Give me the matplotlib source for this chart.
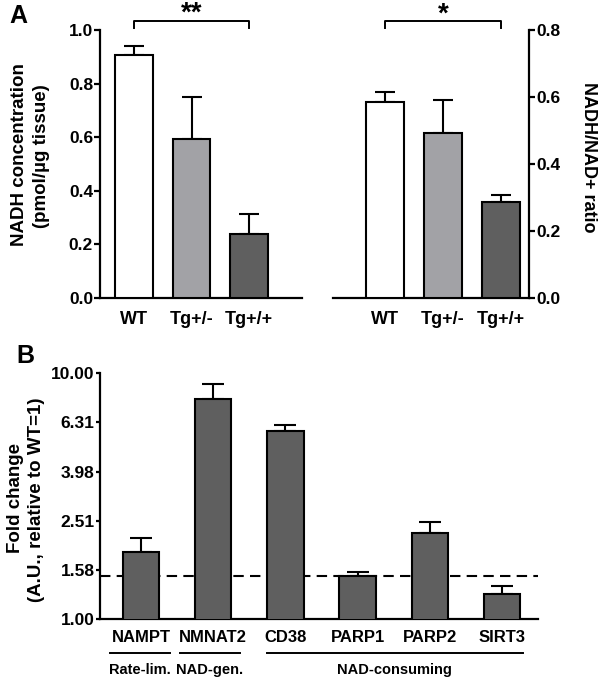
import numpy as np
import matplotlib
matplotlib.use("Agg")
import matplotlib.pyplot as plt

plt.rcParams['font.family'] = ['Liberation Sans', 'DejaVu Sans']
plt.rcParams['font.weight'] = 'bold'

# panel A data
genotypes = ['WT', 'Tg+/-', 'Tg+/+']
nadh_conc = [0.907, 0.592, 0.238]
nadh_conc_err = [0.034, 0.157, 0.074]
nadh_ratio = [0.586, 0.493, 0.287]
nadh_ratio_err = [0.030, 0.098, 0.020]
geno_colors = ['#ffffff', '#a2a2a6', '#5f5f5f']

# panel B data
genes = ['NAMPT', 'NMNAT2', 'CD38', 'PARP1', 'PARP2', 'SIRT3']
fold_change = [1.87, 7.84, 5.84, 1.50, 2.25, 1.27]
fold_upper = [2.15, 9.02, 6.16, 1.56, 2.48, 1.36]
baseline = 1.5
log_ticks = [1.00, 1.58, 2.51, 3.98, 6.31, 10.00]
groups = ['Rate-lim.', 'NAD-gen.', 'NAD-consuming']
group_spans = [(-0.43, 0.40), (0.54, 1.37), (1.74, 5.29)]

W, H = 600, 679
fig = plt.figure(figsize=(6, 6.79), dpi=100)


def fax(l, t, r, b):
    return fig.add_axes([l / W, 1 - b / H, (r - l) / W, (b - t) / H])


def style(ax):
    for s in ax.spines.values():
        s.set_linewidth(1.6)
    ax.tick_params(axis='y', width=1.6, length=4, pad=1, labelsize=12.5)
    ax.tick_params(axis='x', length=0, pad=9, labelsize=13)
    for lab in ax.get_xticklabels() + ax.get_yticklabels():
        lab.set_fontweight('bold')


def bracket(ax, x0, x1, y, drop, label, top_px):
    ax.plot([x0, x0, x1, x1], [y - drop, y, y, y - drop], color='black',
            lw=1.4, clip_on=False)
    xc = ax.transData.transform(((x0 + x1) / 2, 0))[0]
    fig.text(xc / W, 1 - top_px / H, label, ha='center', va='top',
             fontsize=20, fontweight='bold')


# A left
ax1 = fax(100, 30, 302, 298)
x = np.arange(len(genotypes))
ax1.bar(x, nadh_conc, width=0.66, color=geno_colors, edgecolor='black',
        linewidth=1.5, zorder=3)
ax1.errorbar(x, nadh_conc, yerr=[np.zeros(3), nadh_conc_err], fmt='none',
             ecolor='black', elinewidth=1.5, capsize=7, capthick=1.5, zorder=2)
ax1.set_xlim(-0.59, 2.92)
ax1.set_ylim(0, 1.0)
ax1.set_yticks([0, 0.2, 0.4, 0.6, 0.8, 1.0])
ax1.set_yticklabels(['0.0', '0.2', '0.4', '0.6', '0.8', '1.0'])
ax1.set_xticks(x)
ax1.set_xticklabels(genotypes)
ax1.spines['top'].set_visible(False)
ax1.spines['right'].set_visible(False)
style(ax1)
bracket(ax1, 0, 2, 1.035, 0.028, '**', 0.5)

# A right
ax2 = fax(333, 30, 529, 298)
ax2.bar(x, nadh_ratio, width=0.66, color=geno_colors, edgecolor='black',
        linewidth=1.5, zorder=3)
ax2.errorbar(x, nadh_ratio, yerr=[np.zeros(3), nadh_ratio_err], fmt='none',
             ecolor='black', elinewidth=1.5, capsize=7, capthick=1.5, zorder=2)
ax2.set_xlim(-0.90, 2.49)
ax2.set_ylim(0, 0.8)
ax2.set_yticks([0, 0.2, 0.4, 0.6, 0.8])
ax2.set_yticklabels(['0.0', '0.2', '0.4', '0.6', '0.8'])
ax2.yaxis.tick_right()
ax2.set_xticks(x)
ax2.set_xticklabels(genotypes)
ax2.spines['top'].set_visible(False)
ax2.spines['left'].set_visible(False)
style(ax2)
bracket(ax2, 0, 2, 0.828, 0.022, '*', 1.5)

# B
ax3 = fax(100, 373.3, 538, 619.3)
xb = np.arange(len(genes))
fc = np.array(fold_change)
ax3.axhline(baseline, color='black', lw=1.5, ls=(0, (5, 3)), zorder=1)
ax3.bar(xb, fc, width=0.505, bottom=0, color='#5f5f5f', edgecolor='black',
        linewidth=1.5, zorder=3)
ax3.errorbar(xb, fc, yerr=[np.zeros(len(fc)), np.array(fold_upper) - fc],
             fmt='none', ecolor='black', elinewidth=1.5, capsize=8,
             capthick=1.5, zorder=2)
ax3.set_yscale('log')
ax3.set_ylim(1.0, 10.0)
ax3.set_xlim(-0.568, 5.5)
ax3.set_yticks(log_ticks)
ax3.set_yticklabels(['%.2f' % t for t in log_ticks])
ax3.minorticks_off()
ax3.set_xticks(xb)
ax3.set_xticklabels(genes)
ax3.spines['top'].set_visible(False)
ax3.spines['right'].set_visible(False)
style(ax3)
ax3.tick_params(axis='y', length=3, labelsize=12.5)
ax3.tick_params(axis='x', labelsize=12, pad=8)

trans = ax3.get_xaxis_transform()
for name, (g0, g1) in zip(groups, group_spans):
    ax3.plot([g0, g1], [-0.135, -0.135], color='black', lw=1.4,
             transform=trans, clip_on=False)
    ax3.text((g0 + g1) / 2, -0.205, name, transform=trans, ha='center',
             va='center', fontsize=10.5, fontweight='bold')

# axis labels and panel letters
fig.text(20 / W, 1 - 155 / H, 'NADH concentration', rotation=90,
         ha='center', va='center', fontsize=13.5, fontweight='bold')
fig.text(42 / W, 1 - 156 / H, '(pmol/µg tissue)', rotation=90,
         ha='center', va='center', fontsize=13.5, fontweight='bold')
fig.text(589 / W, 1 - 157 / H, 'NADH/NAD+ ratio', rotation=270,
         ha='center', va='center', fontsize=13, fontweight='bold')
fig.text(16 / W, 1 - 498 / H, 'Fold change', rotation=90,
         ha='center', va='center', fontsize=13.5, fontweight='bold')
fig.text(37 / W, 1 - 500 / H, '(A.U., relative to WT=1)', rotation=90,
         ha='center', va='center', fontsize=13.5, fontweight='bold')
fig.text(18 / W, 1 - 16 / H, 'A', ha='center', va='center', fontsize=18,
         fontweight='bold')
fig.text(25 / W, 1 - 356 / H, 'B', ha='center', va='center', fontsize=18,
         fontweight='bold')

fig.savefig('out.png', dpi=100)
